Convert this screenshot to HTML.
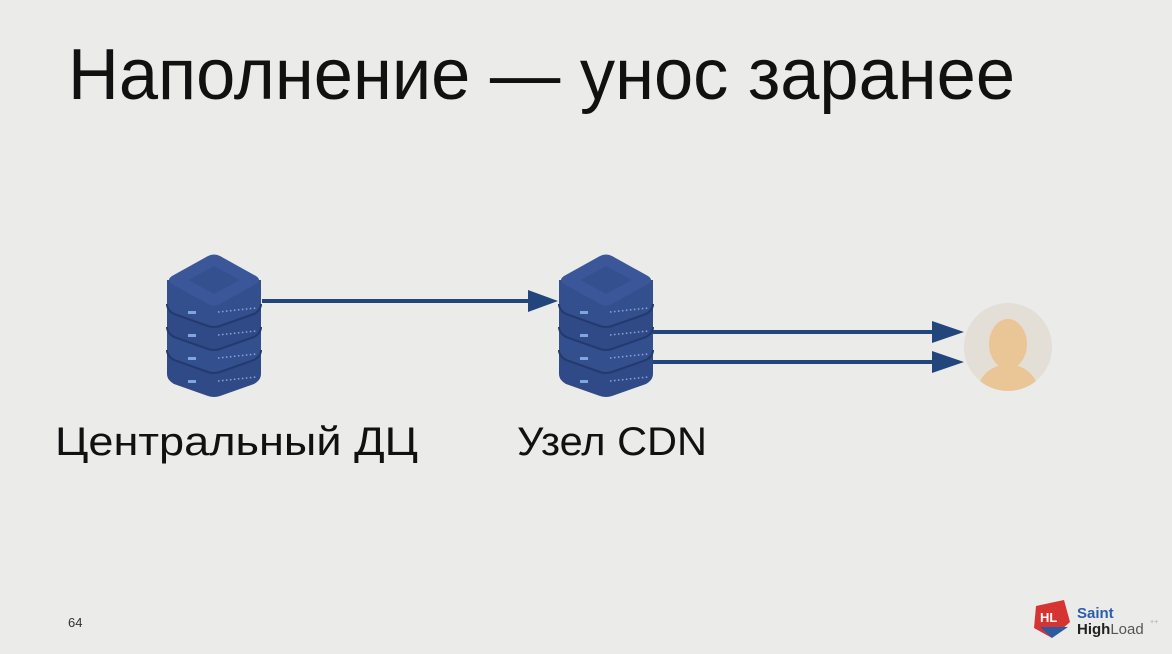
<!DOCTYPE html>
<html><head><meta charset="utf-8"><style>
html,body{margin:0;padding:0;background:#ebebe9;}
svg{display:block}
text{font-family:"Liberation Sans","DejaVu Sans",sans-serif;}
</style></head><body>
<svg width="1172" height="654" viewBox="0 0 1172 654" xmlns="http://www.w3.org/2000/svg">
<rect width="1172" height="654" fill="#ebebe9"/>
<text x="68" y="99" font-size="72" fill="#111" textLength="947" lengthAdjust="spacingAndGlyphs">Наполнение — унос заранее</text>
<defs>
<g id="srv">
  <g fill="#2f4a87">
    <path d="M-47,94 L47,94 L47,118 Q47,124 40,128 L6,140 Q0,142 -6,140 L-40,128 Q-47,124 -47,118 Z"/>
    <path d="M-47,70 L47,70 L47,94 Q47,100 40,104 L6,116 Q0,118 -6,116 L-40,104 Q-47,100 -47,94 Z" fill="#344f8e"/>
    <path d="M-47,47 L47,47 L47,71 Q47,77 40,81 L6,93 Q0,95 -6,93 L-40,81 Q-47,77 -47,71 Z"/>
    <path d="M-47,24 L47,24 L47,48 Q47,54 40,58 L6,70 Q0,72 -6,70 L-40,58 Q-47,54 -47,48 Z" fill="#344f8e"/>
  </g>
  <g fill="none" stroke="#233a6e" stroke-width="2">
    <path d="M-47,48 Q-47,54 -40,58 L-6,70 Q0,72 6,70 L40,58 Q47,54 47,48"/>
    <path d="M-47,71 Q-47,77 -40,81 L-6,93 Q0,95 6,93 L40,81 Q47,77 47,71"/>
    <path d="M-47,94 Q-47,100 -40,104 L-6,116 Q0,118 6,116 L40,104 Q47,100 47,94"/>
  </g>
  <path d="M-6,0 Q0,-3 6,0 L42,20 Q48,24 42,28 L6,48 Q0,51 -6,48 L-42,28 Q-48,24 -42,20 Z" fill="#3c5799"/>
  <path d="M0,10 L26,24 L0,38 L-26,24 Z" fill="#35508f"/>
  <g fill="#7fa6e0">
    <rect x="-26" y="55" width="8" height="3"/><rect x="-26" y="78" width="8" height="3"/><rect x="-26" y="101" width="8" height="3"/><rect x="-26" y="124" width="8" height="3"/>
  </g>
  <g stroke="#8aa6d6" stroke-width="1.5" stroke-dasharray="1.5 2.5">
    <line x1="4" y1="56" x2="42" y2="52"/><line x1="4" y1="79" x2="42" y2="75"/><line x1="4" y1="102" x2="42" y2="98"/><line x1="4" y1="125" x2="42" y2="121"/>
  </g>
</g>
</defs>
<use href="#srv" x="214" y="256"/>
<use href="#srv" x="606" y="256"/>
<g fill="#22467c" stroke="#22467c">
  <line x1="262" y1="301" x2="532" y2="301" stroke-width="4"/>
  <polygon points="528,290 558,301 528,312" stroke="none"/>
  <line x1="653" y1="332" x2="936" y2="332" stroke-width="4"/>
  <polygon points="932,321 964,332 932,343" stroke="none"/>
  <line x1="653" y1="362" x2="936" y2="362" stroke-width="4"/>
  <polygon points="932,351 964,362 932,373" stroke="none"/>
</g>
<circle cx="1008" cy="347" r="44" fill="#e3ded6"/>
<clipPath id="cc"><circle cx="1008" cy="347" r="44"/></clipPath>
<g clip-path="url(#cc)" fill="#eac595">
  <ellipse cx="1008" cy="344" rx="19" ry="25"/>
  <path d="M975,400 Q978,372 998,366 L1018,366 Q1038,372 1041,400 Z"/>
</g>
<text x="55" y="455" font-size="40" fill="#111" textLength="363" lengthAdjust="spacingAndGlyphs">Центральный ДЦ</text>
<text x="517" y="455" font-size="40" fill="#111" textLength="190" lengthAdjust="spacingAndGlyphs">Узел CDN</text>
<text x="68" y="627" font-size="13" fill="#333">64</text>
<path d="M1036,606 L1064,600 L1070,622 L1052,638 L1034,628 Z" fill="#d63333"/>
<path d="M1040,627 L1068,627 L1052,638 Z" fill="#2d5aa0"/>
<text x="1040" y="622" font-size="13" fill="#fff" font-weight="bold">HL</text>
<text x="1077" y="618" font-size="15" fill="#2c5ea8" font-weight="bold">Saint</text>
<text x="1077" y="634" font-size="15" fill="#222" font-weight="bold">High<tspan font-weight="normal" fill="#555">Load</tspan></text>
<text x="1150" y="624" font-size="7" fill="#aaa">++</text>
</svg>
</body></html>
